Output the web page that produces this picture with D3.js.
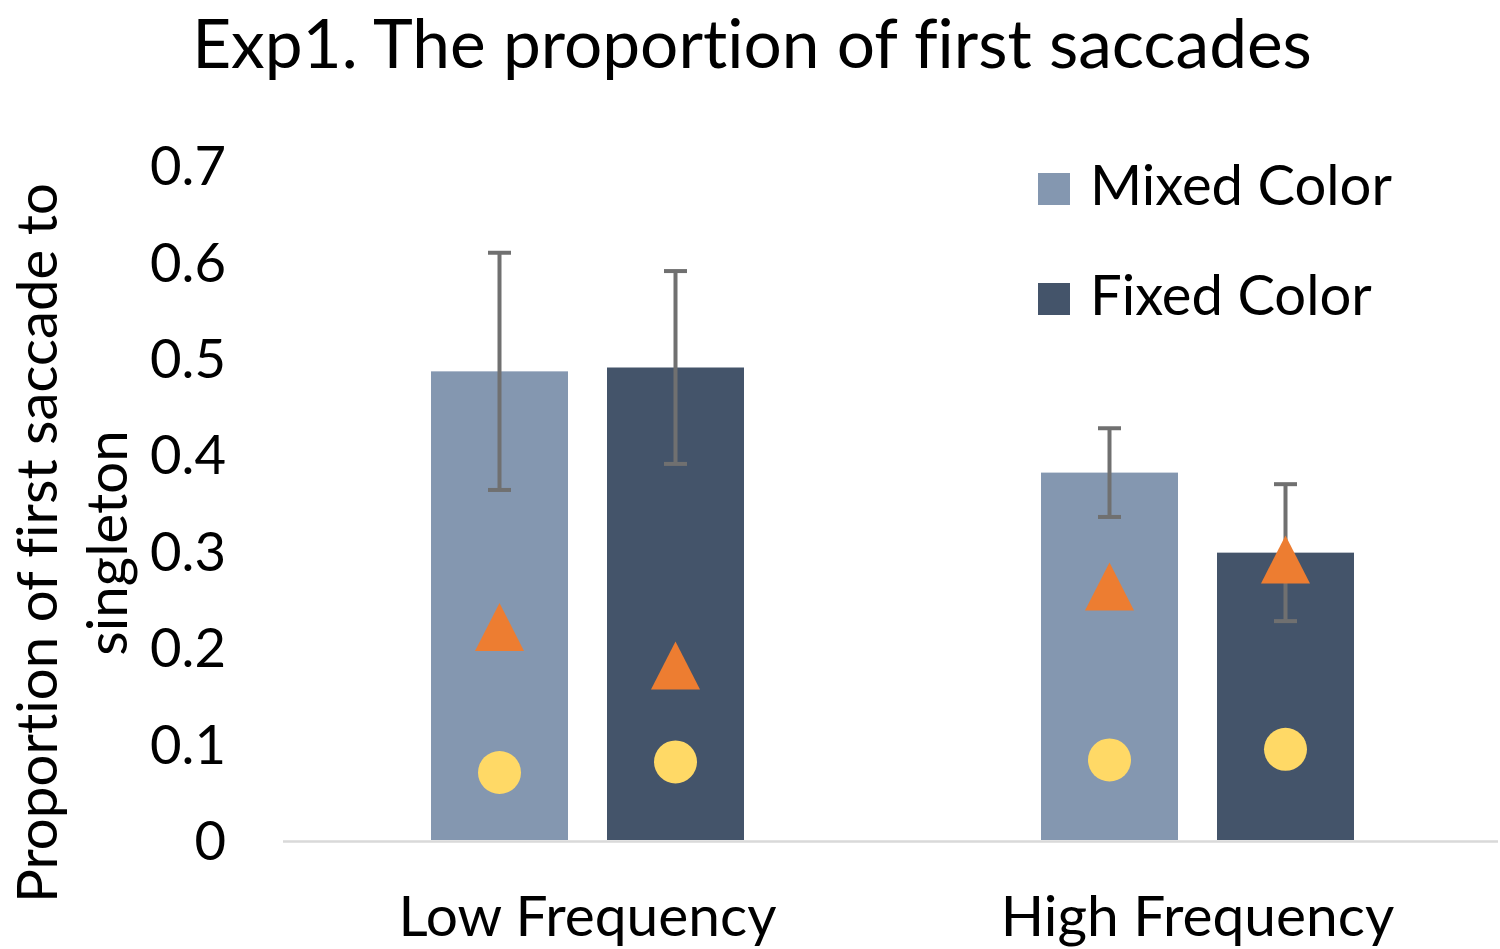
<!DOCTYPE html>
<html>
<head>
<meta charset="utf-8">
<script src="https://cdn.jsdelivr.net/npm/d3@7"></script>
<style>
  html, body { margin: 0; padding: 0; background: #fff; }
  svg { display: block; }
  text { font-family: Lato, "Open Sans", "Liberation Sans", sans-serif; fill: #000;
         font-variant-ligatures: none; font-feature-settings: "liga" 0, "clig" 0; }
</style>
</head>
<body>
<svg id="chart" width="1500" height="949"></svg>
<script>
// ---- data ----
const categories = ["Low Frequency", "High Frequency"];
const series = ["Mixed Color", "Fixed Color"];
const mixedValues = [0.486, 0.381];
const fixedValues = [0.490, 0.298];
const mixedErrors = [0.123, 0.046];
const fixedErrors = [0.100, 0.071];
const mixedTriangle = [0.221, 0.263];
const fixedTriangle = [0.181, 0.291];
const mixedCircle = [0.070, 0.083];
const fixedCircle = [0.081, 0.094];
const yTicks = [0, 0.1, 0.2, 0.3, 0.4, 0.5, 0.6, 0.7];
const tickLabels = ["0", "0.1", "0.2", "0.3", "0.4", "0.5", "0.6", "0.7"];
const title = "Exp1. The proportion of first saccades";
const yTitleLines = ["Proportion of first saccade to", "singleton"];
const seriesColors = ["#8497b0", "#44546a"];

// ---- build rows ----
const rows = [];
categories.forEach((c, i) => {
  rows.push({cat: c, s: series[0], v: mixedValues[i], e: mixedErrors[i], tri: mixedTriangle[i], cir: mixedCircle[i]});
  rows.push({cat: c, s: series[1], v: fixedValues[i], e: fixedErrors[i], tri: fixedTriangle[i], cir: fixedCircle[i]});
});

const svg = d3.select("#chart");

// fit text to a target width
function fit(sel, targetW, base) {
  sel.attr("font-size", base);
  const w = sel.node().getComputedTextLength();
  const fs = base * targetW / w;
  sel.attr("font-size", fs);
  return fs;
}

// ---- scales ----
const plotLeft = 283, plotRight = 1498;
const y = d3.scaleLinear().domain([0, 0.7]).range([840, 165]);
const x0 = d3.scaleBand().domain(categories).range([282.5, 1502.5]);
const groupW = 313;
const x1 = d3.scaleBand().domain(series)
  .range([(x0.bandwidth() - groupW) / 2, (x0.bandwidth() + groupW) / 2])
  .paddingInner(39 / 176);
const color = d3.scaleOrdinal().domain(series).range(seriesColors);

// ---- title ----
const t = svg.append("text").attr("x", 752)
  .attr("text-anchor", "middle").text(title);
const fsT = fit(t, 1120, 60);
t.attr("y", Math.ceil(fsT * 0.99) + 1);

// ---- y axis title ----
const yt = svg.append("g").attr("transform", "translate(0,543) rotate(-90)");
const l1 = yt.append("text").attr("x", 0).attr("text-anchor", "middle").text(yTitleLines[0]);
const fsY = fit(l1, 720, 55);
const b1 = Math.ceil(fsY * 0.99) + 1;
l1.attr("y", b1);
yt.append("text").attr("x", 0).attr("y", b1 + 70).attr("text-anchor", "middle")
  .attr("font-size", fsY).text(yTitleLines[1]);

// ---- y tick labels (axis without line/ticks) ----
const yAxis = d3.axisLeft(y).tickValues(yTicks).tickSize(0).tickPadding(0)
  .tickFormat((d, i) => tickLabels[i]);
const gy = svg.append("g").attr("transform", "translate(226,0)").call(yAxis);
gy.select(".domain").remove();
const probe = gy.selectAll(".tick text").filter((d, i) => i === 7);
const fsTick = fit(probe, 76, 55);
gy.selectAll(".tick text")
  .attr("font-size", fsTick)
  .attr("font-family", "Lato, 'Open Sans', sans-serif")
  .attr("fill", "#000")
  .attr("dy", "0.36em");

// ---- baseline ----
svg.append("line")
  .attr("x1", plotLeft).attr("x2", plotRight)
  .attr("y1", y(0) + 1.5).attr("y2", y(0) + 1.5)
  .attr("stroke", "#d9d9d9").attr("stroke-width", 2.5);

// ---- bars ----
const bx = d => x0(d.cat) + x1(d.s);
const cx = d => bx(d) + x1.bandwidth() / 2;
svg.append("g").selectAll("rect").data(rows).join("rect")
  .attr("x", bx)
  .attr("width", x1.bandwidth())
  .attr("y", d => y(d.v))
  .attr("height", d => y(0) - y(d.v))
  .attr("fill", d => color(d.s));

// ---- error bars ----
const eg = svg.append("g").attr("stroke", "#707070").attr("stroke-width", 4);
eg.selectAll("line.v").data(rows).join("line").attr("class", "v")
  .attr("x1", cx).attr("x2", cx)
  .attr("y1", d => y(d.v + d.e)).attr("y2", d => y(d.v - d.e));
eg.selectAll("line.top").data(rows).join("line").attr("class", "top")
  .attr("x1", d => cx(d) - 11.5).attr("x2", d => cx(d) + 11.5)
  .attr("y1", d => y(d.v + d.e)).attr("y2", d => y(d.v + d.e));
eg.selectAll("line.bot").data(rows).join("line").attr("class", "bot")
  .attr("x1", d => cx(d) - 11.5).attr("x2", d => cx(d) + 11.5)
  .attr("y1", d => y(d.v - d.e)).attr("y2", d => y(d.v - d.e));

// ---- triangle markers ----
svg.append("g").selectAll("path").data(rows).join("path")
  .attr("d", d => {
    const px = cx(d), py = y(d.tri);
    return `M${px},${py - 24}L${px + 24.5},${py + 24}L${px - 24.5},${py + 24}Z`;
  })
  .attr("fill", "#ed7d31");

// ---- circle markers ----
svg.append("g").selectAll("circle").data(rows).join("circle")
  .attr("cx", cx).attr("cy", d => y(d.cir)).attr("r", 21.5)
  .attr("fill", "#ffd966");

// ---- category labels ----
const catTexts = svg.append("g").selectAll("text").data(categories).join("text")
  .attr("x", d => x0(d) + x0.bandwidth() / 2)
  .attr("y", 936)
  .attr("text-anchor", "middle")
  .text(d => d);
const fsCat = fit(catTexts.filter((d, i) => i === 0), 378, 55);
catTexts.attr("font-size", fsCat);

// ---- legend ----
const legY = [189, 299];
const lg = svg.append("g").selectAll("g").data(series).join("g")
  .attr("transform", (d, i) => `translate(1038,${legY[i]})`);
lg.append("rect").attr("x", 0).attr("y", -16).attr("width", 32).attr("height", 32)
  .attr("fill", d => color(d));
const legTexts = lg.append("text").attr("x", 52).attr("y", 15.5).text(d => d);
const fsLeg = fit(legTexts.filter((d, i) => i === 0), 302, 55);
legTexts.attr("font-size", fsLeg);
</script>
</body>
</html>
